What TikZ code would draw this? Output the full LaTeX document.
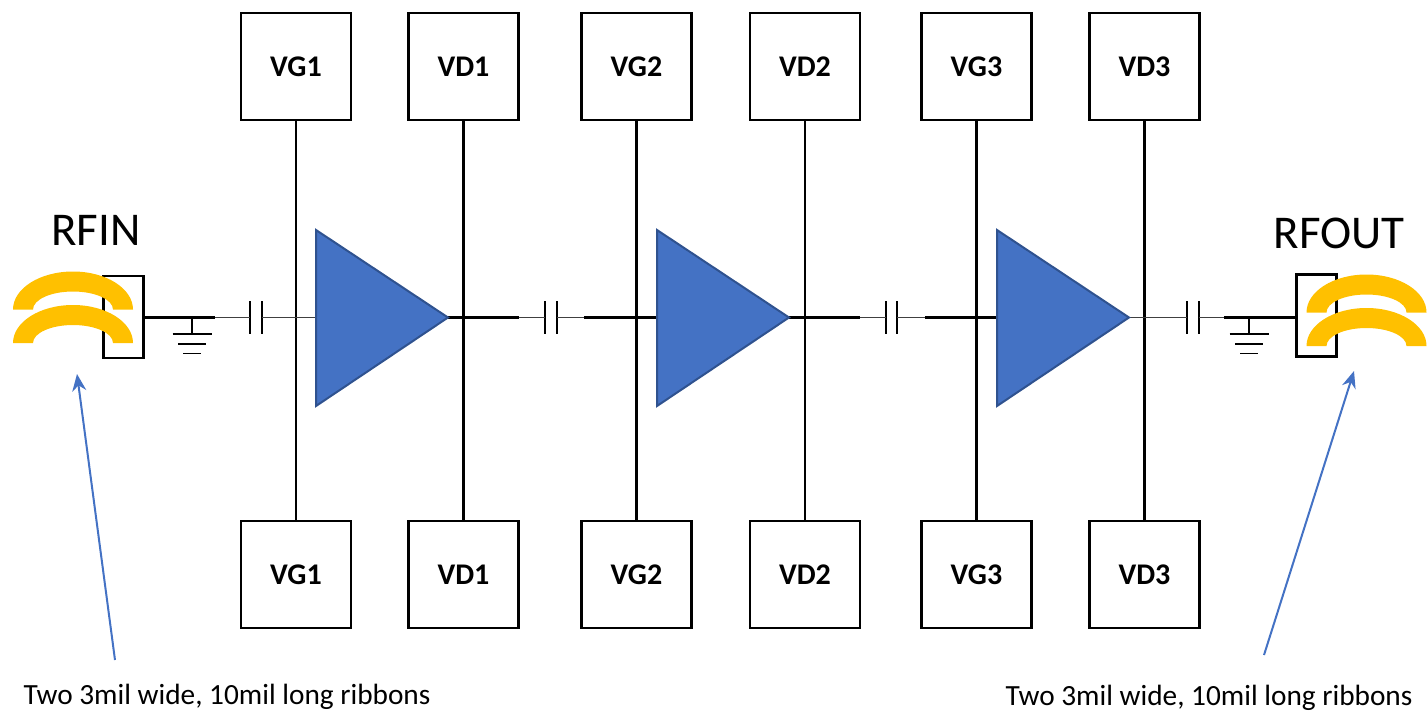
\documentclass[tikz,border=0pt]{standalone}
\usepackage{fontspec}
\setmainfont{Carlito}
\usetikzlibrary{arrows.meta,positioning}

\definecolor{ampblue}{HTML}{4472C4}
\definecolor{ampedge}{HTML}{2F528F}
\definecolor{ribbonyellow}{HTML}{FFC000}

\begin{document}
\begin{tikzpicture}[x=1pt,y=-1pt,on grid,line width=2.4pt]

\tikzstyle{bias}=[draw,minimum width=110pt,minimum height=107pt,inner sep=0pt,font=\fontsize{30}{30}\selectfont\bfseries]
\tikzstyle{amp}=[fill=ampblue,draw=ampedge,line width=2pt]
\tikzstyle{ribbon}=[fill=ribbonyellow,draw=none]
\tikzstyle{pad}=[draw,minimum width=40pt,minimum height=82pt,inner sep=0pt]
\tikzstyle{capa}=[minimum width=11.5pt,minimum height=33pt,inner sep=0pt,outer sep=0pt]
\tikzstyle{thin wire}=[line width=1.4pt,black!75]
\tikzstyle{title}=[font=\fontsize{47}{47}\selectfont]
\tikzstyle{note}=[inner sep=0pt,outer sep=0pt,font=\fontsize{29.3}{30}\selectfont]
\tikzstyle{pointer}=[-{Stealth[length=17pt,width=14pt]},ampblue,line width=2pt]

\useasboundingbox (0,0) rectangle (1428,712);

% bias pads, top row
\node[bias] (VG1t) at (296,66.5)             {VG1};
\node[bias] (VD1t) [right=167.5pt of VG1t]   {VD1};
\node[bias] (VG2t) [right=173pt of VD1t]     {VG2};
\node[bias] (VD2t) [right=168.5pt of VG2t]   {VD2};
\node[bias] (VG3t) [right=171.5pt of VD2t]   {VG3};
\node[bias] (VD3t) [right=168pt of VG3t]     {VD3};

% bias pads, bottom row
\node[bias] (VG1b) [below=508pt of VG1t] {VG1};
\node[bias] (VD1b) [below=508pt of VD1t] {VD1};
\node[bias] (VG2b) [below=508pt of VG2t] {VG2};
\node[bias] (VD2b) [below=508pt of VD2t] {VD2};
\node[bias] (VG3b) [below=508pt of VG3t] {VG3};
\node[bias] (VD3b) [below=508pt of VD3t] {VD3};

\draw (VG1t) -- (VG1b);
\draw (VD1t) -- (VD1b);
\draw (VG2t) -- (VG2b);
\draw (VD2t) -- (VD2b);
\draw (VG3t) -- (VG3b);
\draw (VD3t) -- (VD3b);

% RF pads and titles
\node[pad] (PADin)  at (123.5,317)  {};
\node[pad] (PADout) at (1316.5,315.5) {};
\node[title] (RFIN)  at (96,230)   {RFIN};
\node[title] (RFOUT) at (1339,233) {RFOUT};

% coupling caps
\node[capa] (C1) at (256,317.5)  {};
\node[capa] (C2) at (551,317.5)  {};
\node[capa] (C3) at (891.5,317.5) {};
\node[capa] (C4) at (1193,317.5) {};
\draw (C1.north west) -- (C1.south west) (C1.north east) -- (C1.south east);
\draw (C2.north west) -- (C2.south west) (C2.north east) -- (C2.south east);
\draw (C3.north west) -- (C3.south west) (C3.north east) -- (C3.south east);
\draw (C4.north west) -- (C4.south west) (C4.north east) -- (C4.south east);

% amplifier stages
\coordinate (A1in) at (316,317.5);
\coordinate (A1out) at (448,317.5);
\coordinate (A2in) at (657,317.5);
\coordinate (A2out) at (789,317.5);
\coordinate (A3in) at (997,317.5);
\coordinate (A3out) at (1129,317.5);

% where the line changes weight
\coordinate (J1) at (215,317.5);
\coordinate (J2) at (519,317.5);
\coordinate (J3) at (584,317.5);
\coordinate (J4) at (860,317.5);
\coordinate (J5) at (925,317.5);
\coordinate (J6) at (1224,317.5);

\draw (PADin.east |- J1) -- (J1);
\draw[thin wire] (J1) -- (C1.west);
\draw[thin wire] (C1.east) -- (A1in);
\draw (A1out) -- (J2);
\draw[thin wire] (J2) -- (C2.west);
\draw[thin wire] (C2.east) -- (J3);
\draw (J3) -- (A2in);
\draw (A2out) -- (J4);
\draw[thin wire] (J4) -- (C3.west);
\draw[thin wire] (C3.east) -- (J5);
\draw (J5) -- (A3in);
\draw[thin wire] (A3out) -- (C4.west);
\draw[thin wire] (C4.east) -- (J6);
\draw (J6) -- (PADout.west |- J6);

\draw[amp] (316,230) -- (316,406) -- (A1out) -- cycle;
\draw[amp] (657,230) -- (657,406) -- (A2out) -- cycle;
\draw[amp] (997,230) -- (997,406) -- (A3out) -- cycle;

% shunt grounds
\coordinate (G1) at (192,317.5);
\coordinate (G2) at (1249,317.5);
\draw[line width=1.8pt] (G1) -- ++(0,16.5);
\draw[line width=1.8pt] (G1) ++(-19.5,16.5) -- ++(39,0) (G1) ++(-14,26.5) -- ++(28,0) (G1) ++(-9,36) -- ++(18,0);
\draw[line width=1.8pt] (G2) -- ++(0,16.5);
\draw[line width=1.8pt] (G2) ++(-19.5,16.5) -- ++(39,0) (G2) ++(-14,26.5) -- ++(28,0) (G2) ++(-9,36) -- ++(18,0);

% bond ribbons
\fill[ribbon] (13,309.5) arc[start angle=180,end angle=0,x radius=60pt,y radius=38pt] -- ++(-20,0) arc[start angle=0,end angle=180,x radius=40pt,y radius=18pt] -- cycle;
\fill[ribbon] (13,343) arc[start angle=180,end angle=0,x radius=60pt,y radius=38pt] -- ++(-20,0) arc[start angle=0,end angle=180,x radius=40pt,y radius=18pt] -- cycle;
\fill[ribbon] (1306.5,312.5) arc[start angle=180,end angle=0,x radius=60pt,y radius=38pt] -- ++(-20,0) arc[start angle=0,end angle=180,x radius=40pt,y radius=18pt] -- cycle;
\fill[ribbon] (1306.5,346) arc[start angle=180,end angle=0,x radius=60pt,y radius=38pt] -- ++(-20,0) arc[start angle=0,end angle=180,x radius=40pt,y radius=18pt] -- cycle;

% notes
\node[note] (noteL) at (227,697) {Two 3mil wide, 10mil long ribbons};
\node[note] (noteR) at (1209,698) {Two 3mil wide, 10mil long ribbons};
\coordinate (tipL) at (77,374);
\coordinate (tipR) at (1354,371);
\coordinate (tailL) at (115,660);
\coordinate (tailR) at (1264,655);
\draw[pointer] (tailL) -- (tipL);
\draw[pointer] (tailR) -- (tipR);

\end{tikzpicture}
\end{document}
